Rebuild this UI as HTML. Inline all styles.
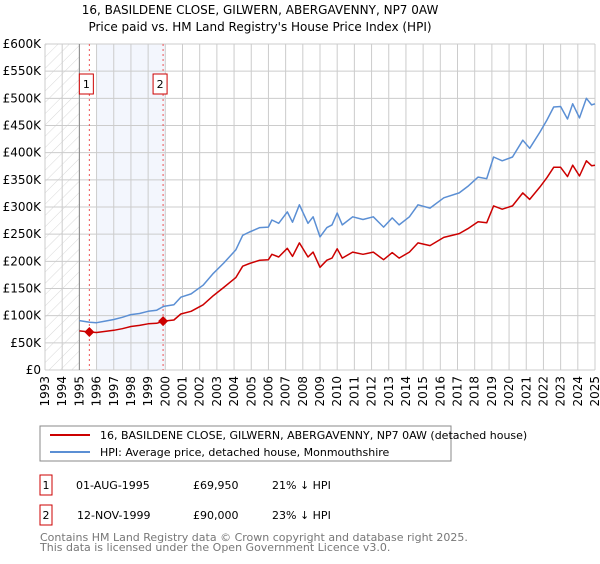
<!DOCTYPE html>
<html><head><meta charset="utf-8"><style>
body{margin:0;background:#fff;font-family:"DejaVu Sans","Liberation Sans",sans-serif;}
svg text{font-family:"DejaVu Sans","Liberation Sans",sans-serif;}
</style></head><body>
<svg id="chart" width="600" height="560" xmlns="http://www.w3.org/2000/svg">
<defs><pattern id="hatch" width="8" height="8" patternUnits="userSpaceOnUse" patternTransform="rotate(45)"><line x1="0" y1="0" x2="0" y2="8" stroke="#d8d8d8" stroke-width="1"/></pattern></defs>
<text x="260" y="14" text-anchor="middle" font-size="12">16, BASILDENE CLOSE, GILWERN, ABERGAVENNY, NP7 0AW</text>
<text x="260" y="31" text-anchor="middle" font-size="12">Price paid vs. HM Land Registry's House Price Index (HPI)</text>
<g id="grid"></g>
<g id="marks"></g>
<g id="axes"></g>
<rect x="40" y="426" width="411" height="35" fill="#fff" stroke="#888"/>
<line x1="50" y1="435" x2="90" y2="435" stroke="#cc0000" stroke-width="2"/>
<text x="100" y="439" font-size="11">16, BASILDENE CLOSE, GILWERN, ABERGAVENNY, NP7 0AW (detached house)</text>
<line x1="50" y1="452" x2="90" y2="452" stroke="#5b8fd4" stroke-width="2"/>
<text x="100" y="456" font-size="11">HPI: Average price, detached house, Monmouthshire</text>
<g font-size="11">
<rect x="40" y="475" width="12" height="20" fill="#fff" stroke="#cc0000"/>
<text x="46" y="489" text-anchor="middle">1</text>
<text x="76" y="489">01-AUG-1995</text>
<text x="193" y="489">£69,950</text>
<text x="272" y="489">21% ↓ HPI</text>
<rect x="40" y="505" width="12" height="20" fill="#fff" stroke="#cc0000"/>
<text x="46" y="519" text-anchor="middle">2</text>
<text x="77" y="519">12-NOV-1999</text>
<text x="193" y="519">£90,000</text>
<text x="272" y="519">23% ↓ HPI</text>
</g>
<text x="40" y="541" font-size="11" fill="#777">Contains HM Land Registry data © Crown copyright and database right 2025.</text>
<text x="40" y="551" font-size="11" fill="#777">This data is licensed under the Open Government Licence v3.0.</text>
</svg>
<script>
const dates=[1995.0,1995.6,1996.0,1996.5,1997.0,1997.5,1998.0,1998.5,1999.0,1999.5,1999.9,2000.5,2000.9,2001.5,2002.2,2002.8,2003.4,2004.1,2004.5,2004.9,2005.5,2006.0,2006.2,2006.6,2007.1,2007.4,2007.8,2008.3,2008.6,2009.0,2009.4,2009.7,2010.0,2010.3,2010.9,2011.5,2012.1,2012.7,2013.2,2013.6,2014.2,2014.7,2015.4,2016.2,2017.1,2017.6,2018.2,2018.7,2019.1,2019.6,2020.2,2020.8,2021.2,2021.8,2022.2,2022.6,2023.0,2023.4,2023.7,2024.1,2024.5,2024.8,2025.0];
const hpiValues=[91,88,87,90,93,97,102,104,108,110,117,120,134,140,156,178,197,221,248,254,262,263,276,270,291,272,304,270,282,245,262,267,289,267,282,277,282,263,280,267,282,304,298,317,326,338,355,352,392,385,392,423,408,438,460,484,485,462,490,464,500,488,490];
const propertyValues=[72,69.95,69,71,73,76,80,82,85,86,90,92,103,108,120,137,152,170,191,196,202,203,213,208,224,209,234,208,217,189,202,206,223,206,217,213,217,203,216,206,217,234,229,244,251,260,273,271,302,296,302,326,314,337,354,373,373,356,377,357,385,376,377];
const saleDates=[1995.58,1999.87];
const salePrices=[69.95,90];
const saleLabels=["1","2"];
const yTicks=[0,50,100,150,200,250,300,350,400,450,500,550,600];
const yTickLabels=["£0","£50K","£100K","£150K","£200K","£250K","£300K","£350K","£400K","£450K","£500K","£550K","£600K"];
const xTicks=[1993,1994,1995,1996,1997,1998,1999,2000,2001,2002,2003,2004,2005,2006,2007,2008,2009,2010,2011,2012,2013,2014,2015,2016,2017,2018,2019,2020,2021,2022,2023,2024,2025];

const NS="http://www.w3.org/2000/svg";
const L=45,R=595,T=44,B=370;
const xs=d=>L+(d-1993)/(2025-1993)*(R-L);
const ys=v=>B-v/600*(B-T);
function mk(tag,attrs,parent){const e=document.createElementNS(NS,tag);for(const k in attrs)e.setAttribute(k,attrs[k]);parent.appendChild(e);return e;}
const grid=document.getElementById('grid'),marks=document.getElementById('marks'),axes=document.getElementById('axes');

let r=mk('rect',{x:L,y:T,width:xs(1995)-L,height:B-T,fill:'url(#hatch)'},grid);


r=mk('rect',{x:xs(1996),y:T,width:xs(2000)-xs(1996),height:B-T,fill:'#f3f6fd'},grid);


yTicks.forEach((v,i)=>{
 const g=mk('line',{x1:L,x2:R,y1:ys(v),y2:ys(v),stroke:'#ccc','stroke-width':1},grid);
 
 
 const t=mk('text',{x:L-4,y:ys(v)+4,'text-anchor':'end','font-size':12},axes);
 t.textContent=yTickLabels[i];
 
 
});
xTicks.forEach(y=>{
 const g=mk('line',{x1:xs(y),x2:xs(y),y1:T,y2:B,stroke:'#ccc','stroke-width':1},grid);
 
 
 const t=mk('text',{x:0,y:0,'text-anchor':'end','font-size':12,transform:`translate(${xs(y)+4},376) rotate(-90)`},axes);
 t.textContent=y;
 
 
});
r=mk('line',{x1:xs(1995),x2:xs(1995),y1:T,y2:B,stroke:'#888','stroke-width':1},grid);



saleDates.forEach((d,i)=>{
 const l=mk('line',{x1:xs(d),x2:xs(d),y1:T,y2:B,stroke:'#e55','stroke-width':1,'stroke-dasharray':'2,3'},marks);
 
 
 const b=mk('rect',{x:xs(d)-10,y:74,width:14,height:20,fill:'#fff',stroke:'#cc0000'},marks);
 
 
 const t=mk('text',{x:xs(d)-3,y:88,'text-anchor':'middle','font-size':11},marks);
 t.textContent=saleLabels[i];
 
 
});
const path=vals=>dates.map((d,i)=>(i?'L':'M')+xs(d).toFixed(1)+','+ys(vals[i]).toFixed(1)).join('');
let p=mk('path',{d:path(hpiValues),fill:'none',stroke:'#5b8fd4','stroke-width':1.5,'stroke-linejoin':'round'},marks);


p=mk('path',{d:path(propertyValues),fill:'none',stroke:'#cc0000','stroke-width':1.5,'stroke-linejoin':'round'},marks);


saleDates.forEach((d,i)=>{
 const m=mk('path',{d:`M${xs(d)-5},${ys(salePrices[i])}l5,-5l5,5l-5,5z`,fill:'#cc0000'},marks);
 
 
});
</script>
</body></html>
